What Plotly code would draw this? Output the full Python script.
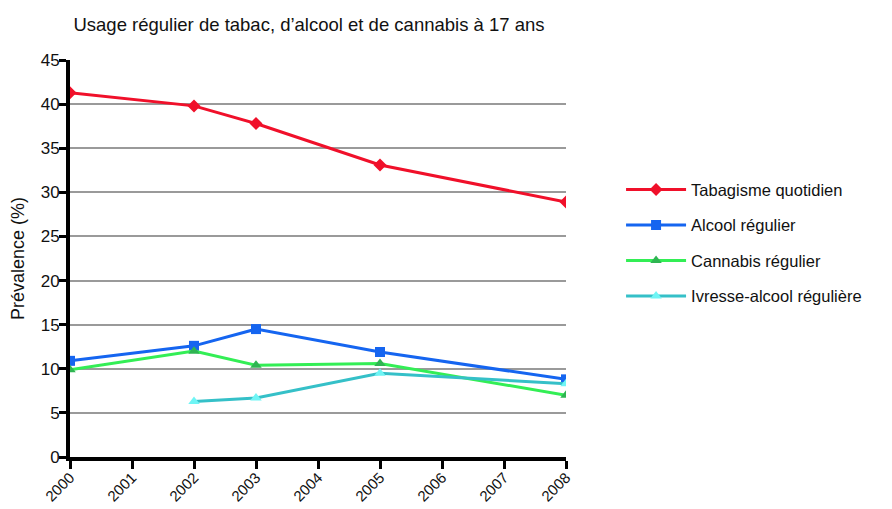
"""Usage régulier de tabac, d'alcool et de cannabis à 17 ans (line chart)."""
import plotly.graph_objects as go

years = [2000, 2002, 2003, 2005, 2008]
years_ivresse = [2002, 2003, 2005, 2008]

tabac = [41.3, 39.8, 37.8, 33.1, 28.9]
alcool = [10.9, 12.6, 14.5, 11.9, 8.8]
cannabis = [9.9, 12.0, 10.4, 10.6, 7.0]
ivresse = [6.3, 6.7, 9.5, 8.3]

tick_years = list(range(2000, 2009))
y_ticks = list(range(0, 50, 5))

fig = go.Figure()

# one trace per series: name, x, y, line colour, marker colour, symbol
series = [
    ("Tabagisme quotidien", years, tabac, "#f0102a", "#f0102a", "diamond"),
    ("Alcool régulier", years, alcool, "#1565f0", "#1565f0", "square"),
    ("Cannabis régulier", years, cannabis, "#33ee55", "#2fb552", "triangle-up"),
    ("Ivresse-alcool régulière", years_ivresse, ivresse, "#35c0c8", "#6ff5f5",
     "triangle-up"),
]

for name, xs, ys, line_col, marker_col, sym in series:
    fig.add_trace(go.Scatter(
        x=xs, y=ys, name=name, mode="lines+markers", legendgroup=name,
        line=dict(color=line_col, width=3),
        marker=dict(color=marker_col, symbol=sym, size=10),
    ))

# the page body has an 8px margin, so the figure is a bit smaller than the window
W, H = 876, 501

fig.update_layout(
    width=W, height=H,
    margin=dict(l=62, r=318, t=52, b=52),
    paper_bgcolor="white", plot_bgcolor="white",
    font=dict(family="Liberation Sans, Arial, sans-serif", size=17, color="#111111"),
    title=dict(text="Usage régulier de tabac, d’alcool et de cannabis à 17 ans",
               x=301 / W, xanchor="center", y=1 - 17 / H, yanchor="middle",
               font=dict(size=18.5)),
    legend=dict(x=1.111, y=0.717, xanchor="left", yanchor="top",
                font=dict(size=16.5), traceorder="grouped", tracegroupgap=11,
                itemwidth=60),
    showlegend=True,
)

# year labels a little smaller so they stay inside the window
fig.update_xaxes(
    range=[2000, 2008], tickmode="array", tickvals=tick_years,
    ticktext=[str(t) for t in tick_years], tickangle=-45,
    showline=True, linecolor="black", linewidth=4,
    ticks="outside", ticklen=8, tickwidth=3, tickcolor="black",
    showgrid=False, zeroline=False, tickfont=dict(size=15), automargin=False,
    ticklabelstandoff=-6,
)
fig.update_yaxes(
    range=[0, 45], tickmode="array", tickvals=y_ticks,
    ticktext=[str(t) for t in y_ticks],
    showline=True, linecolor="black", linewidth=4,
    ticks="outside", ticklen=7, tickwidth=3, tickcolor="black",
    showgrid=True, gridcolor="#9a9a9a", gridwidth=1.5, zeroline=False,
    title=dict(text="Prévalence (%)", standoff=18, font=dict(size=18)),
    tickfont=dict(size=17), automargin=False, ticklabelstandoff=-4,
)

fig.write_html("out.html")
